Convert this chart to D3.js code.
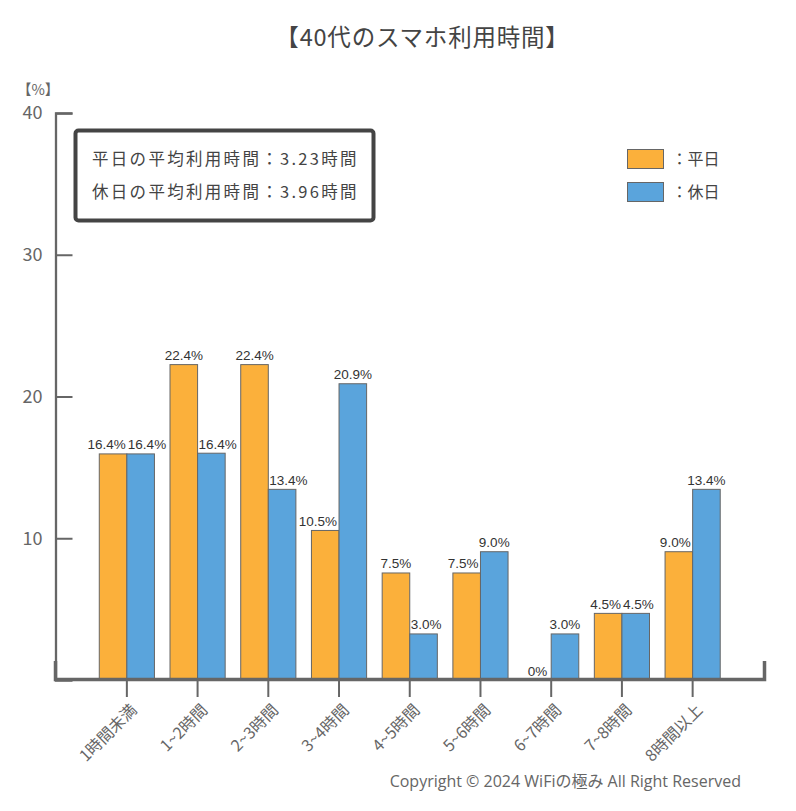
<!DOCTYPE html>
<html><head><meta charset="utf-8">
<script src="https://cdn.jsdelivr.net/npm/d3@7"></script>
<style>body{margin:0;background:#fff}svg{display:block}</style>
</head><body>
<svg id="chart" width="796" height="811"></svg>
<script>
const categories = ["1時間未満","1~2時間","2~3時間","3~4時間","4~5時間","5~6時間","6~7時間","7~8時間","8時間以上"];
const weekdayValues = [15.95, 22.25, 22.25, 10.55, 7.55, 7.55, 0, 4.7, 9.05];
const holidayValues = [15.95, 16.0, 13.45, 20.9, 3.25, 9.05, 3.25, 4.7, 13.45];
const weekdayLabels = ["16.4%","22.4%","22.4%","10.5%","7.5%","7.5%","0%","4.5%","9.0%"];
const holidayLabels = ["16.4%","16.4%","13.4%","20.9%","3.0%","9.0%","3.0%","4.5%","13.4%"];
const yTicks = [10, 20, 30, 40];
const seriesNames = ["平日","休日"];
const summaryLines = ["平日の平均利用時間：3.23時間","休日の平均利用時間：3.96時間"];
const title = "【40代のスマホ利用時間】";
const copyright = "Copyright © 2024 WiFiの極み All Right Reserved";

const colors = {"平日":"#FBB03B","休日":"#5AA4DC"};
const jp = "'Noto Sans CJK JP','Noto Sans',sans-serif";
const svg = d3.select("#chart");

const y = d3.scaleLinear().domain([0,40]).range([680,113]);
const x = d3.scaleBand().domain(categories).range([91.5,728]).paddingInner(0.22).paddingOuter(0.11);
const x1 = d3.scaleBand().domain(seriesNames).range([0,x.bandwidth()]);

// title
svg.append("text").attr("x",422.5).attr("y",46).attr("text-anchor","middle")
  .attr("font-family",jp).attr("font-size",23.5).attr("letter-spacing",0.8).attr("fill","#444").text(title);

// y unit
svg.append("text").attr("x",17).attr("y",95).attr("font-family",jp).attr("font-size",14.5).attr("fill","#666").text("【%】");

// bars
const data = categories.map((c,i)=>({c, vals:[
  {s:"平日", v:weekdayValues[i], l:weekdayLabels[i]},
  {s:"休日", v:holidayValues[i], l:holidayLabels[i]}]}));
const g = svg.append("g").selectAll("g").data(data).join("g")
  .attr("transform", d=>`translate(${x(d.c)},0)`);
g.selectAll("rect").data(d=>d.vals).join("rect")
  .attr("x", d=>x1(d.s)).attr("width", x1.bandwidth())
  .attr("y", d=>y(d.v)).attr("height", d=>y(0)-y(d.v))
  .attr("fill", d=>colors[d.s]).attr("stroke","#666").attr("stroke-width",1);
g.each(function(d){
  const grp = d3.select(this);
  const bw = x1.bandwidth(), mid = x1("休日");
  const labs = d.vals.map(v=>grp.append("text")
    .attr("y", y(v.v)-4.5).attr("text-anchor","middle")
    .attr("font-family","'Liberation Sans',Arial,sans-serif")
    .attr("font-size",13.5).attr("fill","#333").text(v.l));
  const w = labs.map(t=>t.node().getComputedTextLength());
  let ca = x1("平日")+bw/2, cb = mid+bw/2;
  const [va, vb] = [d.vals[0].v, d.vals[1].v];
  if (Math.abs(y(va)-y(vb)) < 14) {
    const over = (ca + w[0]/2 + 2) - (cb - w[1]/2);
    if (over > 0) { ca -= over/2; cb += over/2; }
  } else if (va < vb) {
    if (ca + w[0]/2 > mid - 2) ca = mid - 2 - w[0]/2;
  } else {
    if (cb - w[1]/2 < mid + 1) cb = mid + 1 + w[1]/2;
  }
  labs[0].attr("x", ca); labs[1].attr("x", cb);
});

// y axis
const yAxis = d3.axisLeft(y).tickValues(yTicks).tickSize(-17).tickSizeOuter(-17).tickPadding(13);
const ya = svg.append("g").attr("transform","translate(55.5,0)").call(yAxis);
ya.select(".domain").attr("stroke","#666").attr("stroke-width",2.3);
ya.selectAll(".tick line").attr("stroke","#666").attr("stroke-width",2);
ya.selectAll("text").attr("font-family",jp).attr("font-size",18).attr("fill","#666");

// x axis
const xAxis = d3.axisBottom(d3.scaleLinear().domain([0,1]).range([55,764])).tickValues([]).tickSizeOuter(-18);
const xa = svg.append("g").attr("transform","translate(0,679)").call(xAxis);
xa.select(".domain").attr("stroke","#666").attr("stroke-width",3.5);
const xt = svg.append("g").attr("transform","translate(0,679)").call(
  d3.axisBottom(x).tickSize(18).tickSizeOuter(0).tickPadding(6));
xt.select(".domain").remove();
xt.selectAll(".tick line").attr("stroke","#666").attr("stroke-width",2);
xt.selectAll(".tick text").attr("font-family",jp).attr("font-size",16).attr("fill","#666")
  .attr("text-anchor","end").attr("dy",null).attr("y",0)
  .attr("transform","translate(11,32) rotate(-45)");

// summary box
svg.append("rect").attr("x",75.5).attr("y",130.5).attr("width",298).attr("height",90).attr("rx",3)
  .attr("fill","#fff").attr("stroke","#444").attr("stroke-width",4);
svg.selectAll("text.sum").data(summaryLines).join("text").attr("class","sum")
  .attr("x",92).attr("y",(d,i)=>165+i*33).attr("font-family",jp).attr("font-size",16.5)
  .attr("letter-spacing",2.3).attr("fill","#444").text(d=>d);

// legend
const lg = svg.append("g").selectAll("g").data(seriesNames).join("g")
  .attr("transform",(d,i)=>`translate(627.5,${149.5+i*33})`);
lg.append("rect").attr("width",36).attr("height",19).attr("fill",d=>colors[d]).attr("stroke","#666").attr("stroke-width",1);
lg.append("text").attr("x",44).attr("y",15).attr("font-family",jp).attr("font-size",16)
  .attr("fill","#444").text(d=>"："+d);

// copyright
svg.append("text").attr("x",741).attr("y",787).attr("text-anchor","end")
  .attr("font-family","'Open Sans','Noto Sans','Noto Sans CJK JP',sans-serif").attr("font-size",16)
  .attr("fill","#666").text(copyright);
</script>
</body></html>
